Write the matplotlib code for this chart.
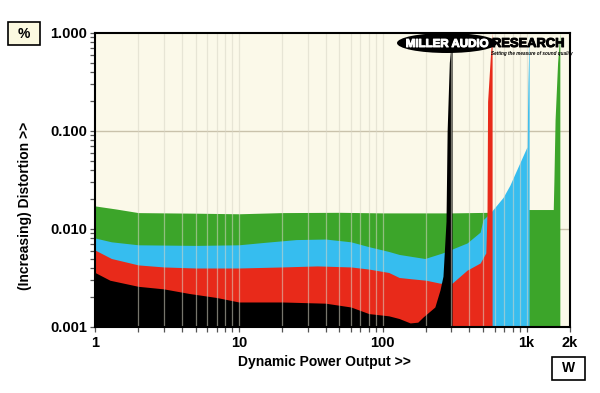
import matplotlib
matplotlib.use("Agg")
import matplotlib.pyplot as plt
from matplotlib.patches import Ellipse, Rectangle
from matplotlib.ticker import FixedLocator, NullFormatter, LogLocator
import matplotlib.patheffects as pe

# ---- data ----
green_w = [1, 1.4, 2, 5, 10, 20, 50, 100, 300, 560, 1000, 1040, 1530, 1545, 1575, 1640, 1700]
green_v = [0.0172, 0.0160, 0.0147, 0.0145, 0.0143, 0.0147, 0.0148, 0.0146, 0.0146, 0.0148, 0.0158,
           0.0158, 0.0158, 0.03, 0.13, 0.5, 1.0]

cyan_w = [1, 1.3, 2, 5, 10, 15, 25, 40, 60, 80, 110, 130, 196, 260, 385, 475, 497, 556, 685, 764,
          870, 1005, 1020, 1040]
cyan_v = [0.0081, 0.0074, 0.0069, 0.0068, 0.0069, 0.0073, 0.0078, 0.0079, 0.0074, 0.0066, 0.0059,
          0.0055, 0.0050, 0.0057, 0.0072, 0.0093, 0.0124, 0.0145, 0.021, 0.028, 0.043, 0.069, 0.3, 1.0]

red_w = [1, 1.3, 2, 3, 5, 10, 20, 35, 60, 80, 110, 130, 160, 200, 250, 303, 385, 475, 520, 530,
         535, 560, 575]
red_v = [0.0061, 0.0050, 0.0043, 0.0041, 0.0040, 0.0040, 0.0041, 0.0042, 0.0041, 0.0039, 0.0036,
         0.0032, 0.0031, 0.0030, 0.0028, 0.0028, 0.0038, 0.0045, 0.0057, 0.015, 0.2, 0.6, 1.0]

black_w = [1, 1.27, 2, 3, 4.5, 7, 10, 20, 40, 60, 80, 110, 130, 155, 175, 190, 230, 250, 262, 275,
           280, 290, 303]
black_v = [0.0036, 0.0030, 0.0026, 0.00245, 0.0022, 0.0020, 0.0018, 0.0018, 0.00175, 0.0016,
           0.00137, 0.0013, 0.00122, 0.0011, 0.00112, 0.00126, 0.0016, 0.0024, 0.0033, 0.012,
           0.1, 0.5, 1.0]

series = [(green_w, green_v, "#3ca52a"),
          (cyan_w, cyan_v, "#36bdef"),
          (red_w, red_v, "#e82a1a"),
          (black_w, black_v, "#000000")]

x_ticks = [1, 10, 100, 1000, 2000]
x_tick_labels = ["1", "10", "100", "1k", "2k"]
y_ticks = [0.001, 0.01, 0.1, 1.0]
y_tick_labels = ["0.001", "0.010", "0.100", "1.000"]

# ---- figure ----
plt.rcParams["font.family"] = ["Liberation Sans", "DejaVu Sans"]
fig = plt.figure(figsize=(6.0, 3.93), dpi=100)
fig.patch.set_facecolor("white")
ax = fig.add_axes([95 / 600, 1 - 327 / 393, 475 / 600, 294 / 393])
ax.set_facecolor("#fbf9e9")
ax.set_xscale("log")
ax.set_yscale("log")
ax.set_xlim(1, 2000)
ax.set_ylim(0.001, 1.0)

# horizontal grid behind
for yv in [0.01, 0.1]:
    ax.axhline(yv, color="#c9c2ab", lw=1.0, zorder=0.5)

for w, v, c in series:
    ax.fill_between(w, 0.0009, v, color=c, lw=0, zorder=2)

# vertical grid on top (semi transparent)
vgrid = [m * d for d in (1, 10, 100) for m in range(2, 10)] + [10, 100, 1000]
for xv in vgrid:
    ax.axvline(xv, color="#d8d6c6", lw=0.9, alpha=0.55, zorder=3)

for s in ax.spines.values():
    s.set_linewidth(1.5)
    s.set_color("black")
    s.set_zorder(6)

ax.xaxis.set_major_locator(FixedLocator(x_ticks))
ax.set_xticklabels(x_tick_labels)
ax.xaxis.set_minor_locator(FixedLocator([m * d for d in (1, 10, 100) for m in range(2, 10)]))
ax.xaxis.set_minor_formatter(NullFormatter())
ax.yaxis.set_major_locator(FixedLocator(y_ticks))
ax.set_yticklabels(y_tick_labels)
ax.yaxis.set_minor_locator(LogLocator(base=10, subs=range(2, 10)))
ax.yaxis.set_minor_formatter(NullFormatter())
ax.tick_params(which="both", direction="out", length=3.5, width=0.9, color="#555555")
ax.tick_params(axis="y", which="major", labelsize=10.5, pad=2)
ax.tick_params(axis="x", which="major", labelsize=10.5, pad=3)
for lab in ax.get_xticklabels() + ax.get_yticklabels():
    lab.set_fontweight("bold")

fig.text(324 / 600, 1 - 362 / 393, "Dynamic Power Output >>", ha="center", va="center",
         fontsize=10, fontweight="bold")
fig.text(25 / 600, 1 - 206 / 393, "(Increasing) Distortion >>", ha="center", va="center",
         rotation=90, fontsize=10, fontweight="bold")

# % box
fig.patches.append(Rectangle((8 / 600, 1 - 45 / 393), 32 / 600, 23 / 393, transform=fig.transFigure,
                             facecolor="#fbf9e0", edgecolor="black", lw=1.2))
fig.text(24 / 600, 1 - 34 / 393, "%", ha="center", va="center", fontsize=10, fontweight="bold")
# W box
fig.patches.append(Rectangle((552 / 600, 1 - 380 / 393), 33 / 600, 23 / 393, transform=fig.transFigure,
                             facecolor="white", edgecolor="black", lw=1.2))
fig.text(568.5 / 600, 1 - 368.5 / 393, "W", ha="center", va="center", fontsize=10, fontweight="bold")

# logo
ax.add_patch(Ellipse(((447 - 95) / 475, (327 - 43) / 294), 100 / 475, 20 / 294, transform=ax.transAxes,
                     facecolor="black", edgecolor="none", zorder=7, clip_on=False))
ax.text((447 - 95) / 475, (327 - 44) / 294, "MILLER AUDIO", transform=ax.transAxes, ha="center",
        va="center", color="white", fontsize=8.3, fontweight="heavy", zorder=8,
        path_effects=[pe.withStroke(linewidth=0.7, foreground="white")])
ax.text((492 - 95) / 475, (327 - 44) / 294, "RESEARCH", transform=ax.transAxes, ha="left",
        va="center", color="black", fontsize=9.3, fontweight="heavy", zorder=8,
        path_effects=[pe.withStroke(linewidth=0.7, foreground="black")])
ax.text((491 - 95) / 475, (327 - 54) / 294, "Setting the measure of sound quality", transform=ax.transAxes,
        ha="left", va="center", color="black", fontsize=3.3, fontweight="bold", style="italic", zorder=8)

fig.savefig("out.png", dpi=100)
